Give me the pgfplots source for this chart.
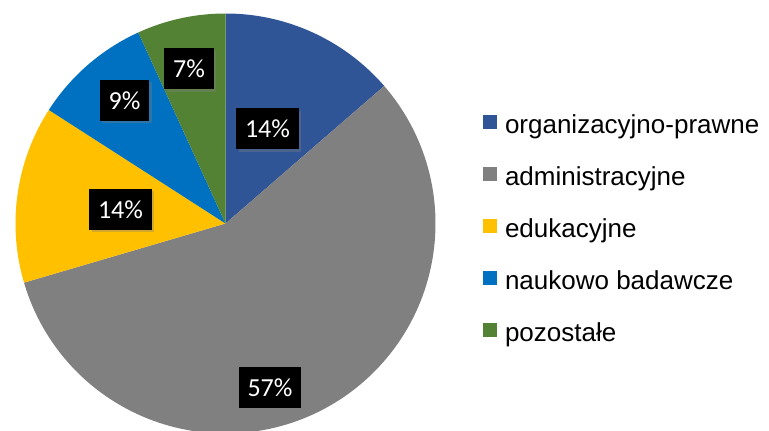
\documentclass[border=0pt]{standalone}
\usepackage{fontspec}
\setmainfont{Liberation Sans}
\newfontfamily\labfont{Carlito}
\usepackage{pgfplots}
\usepackage{pgfplotstable}
\pgfplotsset{compat=1.18}
\usetikzlibrary{shadows}

\definecolor{cOrg}{HTML}{2F5597}
\definecolor{cAdm}{HTML}{808080}
\definecolor{cEdu}{HTML}{FFC000}
\definecolor{cNau}{HTML}{0070C0}
\definecolor{cPoz}{HTML}{548235}

\tikzset{labelbox/.style={fill=black, text=white, inner xsep=9pt, inner ysep=0pt,
    minimum height=41pt, font=\labfont\fontsize{26}{30}\selectfont,
    drop shadow={shadow xshift=2.5pt, shadow yshift=-2.5pt, opacity=0.35}}}

\pgfplotstableread{
label value
org 6
adm 25
edu 6
nau 4
poz 3
}\piedata

\newcommand\getv[2]{\pgfplotstablegetelem{#1}{value}\of\piedata\global\let#2\pgfplotsretval}

\begin{document}
\begin{tikzpicture}
\useasboundingbox (0,0) rectangle (769pt,431pt);
\getv{0}\vA \getv{1}\vB \getv{2}\vC \getv{3}\vD \getv{4}\vE
\pgfmathsetmacro\tot{\vA+\vB+\vC+\vD+\vE}
\pgfmathsetmacro\aO{90}
\pgfmathsetmacro\aA{\aO-360*\vA/\tot}
\pgfmathsetmacro\aB{\aA-360*\vB/\tot}
\pgfmathsetmacro\aC{\aB-360*\vC/\tot}
\pgfmathsetmacro\aD{\aC-360*\vD/\tot}
\pgfmathsetmacro\aE{\aD-360*\vE/\tot}
\def\cx{225.5}\def\cy{207.5}\def\rr{210}
\begin{axis}[
  at={(0,0)}, anchor=south west,
  width=769pt, height=431pt, scale only axis,
  xmin=0, xmax=769, ymin=0, ymax=431,
  hide axis, clip=true,
  legend cell align=left,
  legend image code/.code={\fill[#1] (0pt,-1pt) rectangle (14pt,13pt);},
  legend style={at={(axis cs:483,316)}, anchor=north west, draw=none, fill=none,
    inner sep=0pt, outer sep=0pt, column sep=8pt, row sep=27pt,
    font=\fontsize{26}{30}\selectfont,
    nodes={inner sep=0pt, text height=18pt, text depth=6pt}},
]
\addplot[fill=cOrg, draw=none, domain=\aA:\aO, samples=80, variable=\t]
  ({\cx+\rr*cos(\t)},{\cy+\rr*sin(\t)}) -- (axis cs:\cx,\cy) -- cycle;
\addlegendentry{organizacyjno-prawne}
\addplot[fill=cAdm, draw=none, domain=\aB:\aA, samples=200, variable=\t]
  ({\cx+\rr*cos(\t)},{\cy+\rr*sin(\t)}) -- (axis cs:\cx,\cy) -- cycle;
\addlegendentry{administracyjne}
\addplot[fill=cEdu, draw=none, domain=\aC:\aB, samples=80, variable=\t]
  ({\cx+\rr*cos(\t)},{\cy+\rr*sin(\t)}) -- (axis cs:\cx,\cy) -- cycle;
\addlegendentry{edukacyjne}
\addplot[fill=cNau, draw=none, domain=\aD:\aC, samples=60, variable=\t]
  ({\cx+\rr*cos(\t)},{\cy+\rr*sin(\t)}) -- (axis cs:\cx,\cy) -- cycle;
\addlegendentry{naukowo badawcze}
\addplot[fill=cPoz, draw=none, domain=\aE:\aD, samples=50, variable=\t]
  ({\cx+\rr*cos(\t)},{\cy+\rr*sin(\t)}) -- (axis cs:\cx,\cy) -- cycle;
\addlegendentry{pozostałe}

\node[labelbox] at (axis cs:267.5,302) {14\%};
\node[labelbox] at (axis cs:270,43.5) {57\%};
\node[labelbox] at (axis cs:120.5,221.5) {14\%};
\node[labelbox] at (axis cs:124.5,330.5) {9\%};
\node[labelbox] at (axis cs:189,362) {7\%};
\end{axis}
\end{tikzpicture}
\end{document}
